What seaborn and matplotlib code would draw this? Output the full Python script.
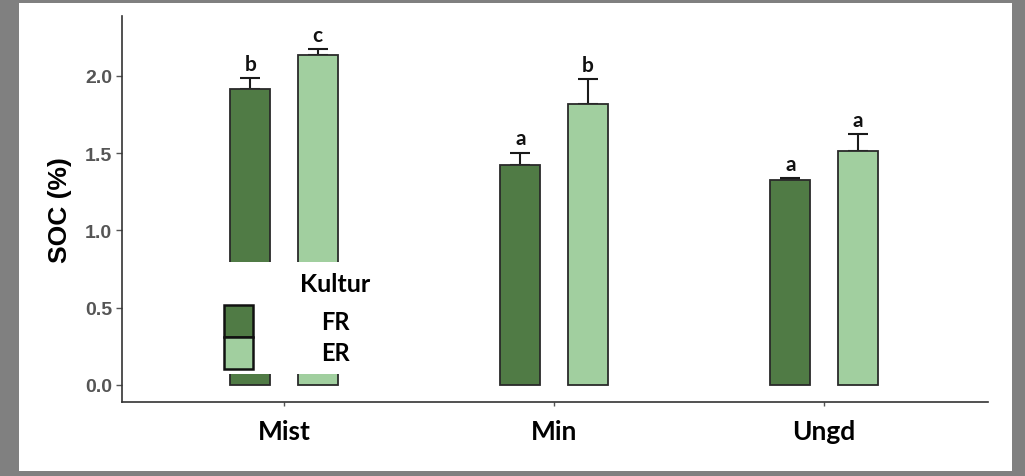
import seaborn as sns
import matplotlib.pyplot as plt
import matplotlib.patches as mpatches
import pandas as pd

# Werte
standorte = ['Mist', 'Min', 'Ungd']
kulturen = ['FR', 'ER']
soc_fr = [1.915, 1.425, 1.326]
soc_er = [2.134, 1.816, 1.512]
se_fr = [0.071, 0.078, 0.015]
se_er = [0.039, 0.161, 0.112]
buchst_fr = ['b', 'a', 'a']
buchst_er = ['c', 'b', 'a']
farben = {'FR': '#507b45', 'ER': '#a1cf9f'}

df = pd.DataFrame({
    'Standort': standorte * 2,
    'Kultur': ['FR'] * 3 + ['ER'] * 3,
    'SOC': soc_fr + soc_er,
})

fig = plt.figure(figsize=(10.25, 4.77), dpi=100, facecolor='#808080')
# weisses Panel im grauen Rahmen
fig.add_artist(mpatches.Rectangle((19 / 1025, 5 / 477), 993 / 1025, 468 / 477,
                                  transform=fig.transFigure, facecolor='white',
                                  edgecolor='none', zorder=-5))
ax = fig.add_axes([122 / 1025, 1 - 403 / 477, 866 / 1025, 386 / 477])
ax.set_facecolor('none')
ax.set_zorder(2)

sns.barplot(data=df, x='Standort', y='SOC', hue='Kultur', order=standorte,
            hue_order=kulturen, palette=farben, saturation=1, width=0.5, gap=0.41,
            edgecolor='#2a2a2a', linewidth=1.3, errorbar=None, legend=False,
            ax=ax, zorder=2)

# Fehlerbalken (nur nach oben) und Buchstaben
for cont, se, lab in zip(ax.containers, [se_fr, se_er], [buchst_fr, buchst_er]):
    for bar, e, l in zip(cont, se, lab):
        xc = bar.get_x() + bar.get_width() / 2
        h = bar.get_height()
        ax.errorbar(xc, h, yerr=[[0], [e]], color='#1a1a1a', lw=1.5,
                    capsize=7, capthick=1.5, zorder=1)
        ax.annotate(l, (xc, h + e), xytext=(0, 3), textcoords='offset points',
                    ha='center', va='bottom', fontsize=15, fontweight='bold',
                    family='Lato', color='#111111')

ax.set_xlim(-0.6, 2.607)
ax.set_ylim(-0.11, 2.387)
ax.set_yticks([0.0, 0.5, 1.0, 1.5, 2.0])
ax.set_yticklabels(['0.0', '0.5', '1.0', '1.5', '2.0'], fontsize=14,
                   fontweight='bold', family='Liberation Sans', color='#555555')
ax.set_xticks(range(len(standorte)))
ax.set_xticklabels(standorte, fontsize=19, fontweight='bold', family='Lato')
ax.tick_params(axis='y', length=4, width=1, color='#555555', pad=3)
ax.tick_params(axis='x', length=3, width=1, color='#555555', pad=9)
ax.set_xlabel('')
ax.set_ylabel('SOC (%)', fontsize=19, fontweight='bold', family='Liberation Sans')
ax.yaxis.set_label_coords(-0.0577, 0.5)
for s in ['top', 'right']:
    ax.spines[s].set_visible(False)
for s in ['left', 'bottom']:
    ax.spines[s].set_color('#333333')
    ax.spines[s].set_linewidth(1.2)

# Legende ueber die Mist-Balken gelegt
ax.add_patch(mpatches.Rectangle((0.107, 0.0725), 0.19, 0.29, transform=ax.transAxes,
                                facecolor='white', edgecolor='none', zorder=4))
handles = [mpatches.Patch(facecolor=farben[k], edgecolor='#111111', linewidth=1.8)
           for k in kulturen]
leg = ax.legend(handles, kulturen, loc='upper left', bbox_to_anchor=(0.1178, 0.2513),
                frameon=False, borderpad=0, borderaxespad=0, labelspacing=0,
                handlelength=1.22, handleheight=1.7, handletextpad=2.9,
                prop={'family': 'Lato', 'weight': 'bold', 'size': 17})
leg.set_zorder(5)
ax.text(0.246, 0.3057, 'Kultur', transform=ax.transAxes, ha='center', va='center',
        fontsize=18, fontweight='bold', family='Lato', zorder=6)

fig.savefig('out.png', dpi=100, facecolor=fig.get_facecolor())
